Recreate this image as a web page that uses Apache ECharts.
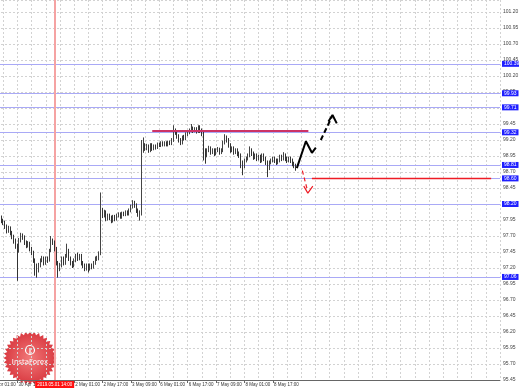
<!DOCTYPE html>
<html><head><meta charset="utf-8">
<script src="https://cdn.jsdelivr.net/npm/echarts@6/dist/echarts.min.js"></script>
<style>html,body{margin:0;padding:0;background:#fff}#c{width:519px;height:389px}</style>
</head><body><div id="c"></div>
<script>
// ---- data (H1 bars, first drawn bar is category index 6) ----
const firstBar = 6;
const opens = [98.02,97.99,97.94,97.91,97.85,97.78,97.82,97.75,97.69,97.63,97.55,97.47,97.63,97.71,97.68,97.60,97.55,97.58,97.50,97.44,
97.32,97.24,97.16,97.24,97.32,97.35,97.28,97.35,97.32,97.47,97.63,97.60,97.50,97.28,97.19,97.24,97.35,97.28,97.39,97.47,
97.35,97.28,97.24,97.32,97.39,97.35,97.39,97.28,97.24,97.19,97.24,97.19,97.24,97.22,97.28,97.35,97.35,97.42,98.10,98.02,
98.07,97.97,98.02,97.99,97.94,98.00,97.97,98.02,98.04,98.00,98.05,98.04,98.07,98.05,98.10,98.16,98.22,98.18,98.10,98.04,
98.07,99.04,99.12,99.07,99.10,99.04,99.12,99.07,99.10,99.09,99.13,99.12,99.15,99.13,99.15,99.13,99.16,99.15,99.20,99.35,
99.32,99.26,99.20,99.16,99.24,99.23,99.29,99.32,99.35,99.38,99.35,99.37,99.34,99.40,99.35,99.30,99.04,98.96,99.04,99.07,
99.01,99.04,98.99,99.04,99.05,99.01,99.04,99.16,99.24,99.20,99.12,99.04,99.07,99.01,99.04,98.99,98.96,98.85,98.79,98.88,
98.91,98.96,99.04,98.99,98.93,98.96,98.91,98.94,98.88,98.96,98.91,98.85,98.76,98.85,98.88,98.91,98.88,98.85,98.88,98.94,
98.91,98.96,98.91,98.88,98.91,98.88,98.83,98.80];
const closes = [97.99,97.94,97.91,97.85,97.78,97.82,97.75,97.69,97.63,97.55,97.47,97.63,97.71,97.68,97.60,97.55,97.58,97.50,97.44,97.32,
97.24,97.16,97.24,97.32,97.35,97.28,97.35,97.32,97.47,97.63,97.60,97.50,97.28,97.19,97.24,97.35,97.28,97.39,97.47,97.35,
97.28,97.24,97.32,97.39,97.35,97.39,97.28,97.24,97.19,97.24,97.19,97.24,97.22,97.28,97.35,97.35,97.42,98.10,98.02,98.07,
97.97,98.02,97.99,97.94,98.00,97.97,98.02,98.04,98.00,98.05,98.04,98.07,98.05,98.10,98.16,98.22,98.18,98.10,98.04,98.07,
99.04,99.12,99.07,99.10,99.04,99.12,99.07,99.10,99.09,99.13,99.12,99.15,99.13,99.15,99.13,99.16,99.15,99.20,99.35,99.32,
99.26,99.20,99.16,99.24,99.23,99.29,99.32,99.35,99.38,99.35,99.37,99.34,99.40,99.35,99.30,99.04,98.96,99.04,99.07,99.01,
99.04,98.99,99.04,99.05,99.01,99.04,99.16,99.24,99.20,99.12,99.04,99.07,99.01,99.04,98.99,98.96,98.85,98.79,98.88,98.91,
98.96,99.04,98.99,98.93,98.96,98.91,98.94,98.88,98.96,98.91,98.85,98.76,98.85,98.88,98.91,98.88,98.85,98.88,98.94,98.91,
98.96,98.91,98.88,98.91,98.88,98.83,98.80,98.76];
const lows = [97.95,97.90,97.87,97.81,97.74,97.75,97.71,97.65,97.58,97.50,97.00,97.44,97.60,97.64,97.56,97.51,97.52,97.46,97.40,97.28,
97.08,97.05,97.13,97.21,97.29,97.24,97.25,97.28,97.30,97.45,97.56,97.46,97.24,97.05,97.15,97.21,97.24,97.25,97.36,97.31,
97.24,97.20,97.21,97.29,97.31,97.32,97.24,97.20,97.15,97.16,97.13,97.16,97.18,97.19,97.25,97.31,97.32,97.40,97.98,97.99,
97.93,97.94,97.95,97.90,97.91,97.93,97.94,97.99,97.97,97.97,98.01,98.01,98.02,98.02,98.07,98.13,98.14,98.06,98.00,97.94,
98.02,99.00,99.03,99.04,99.00,99.01,99.03,99.04,99.05,99.06,99.09,99.09,99.10,99.10,99.10,99.10,99.12,99.12,99.17,99.28,
99.22,99.16,99.12,99.13,99.19,99.20,99.26,99.29,99.32,99.31,99.32,99.30,99.31,99.31,99.26,98.88,98.83,98.93,99.01,98.97,
98.98,98.95,98.96,99.01,98.97,98.98,99.01,99.13,99.16,99.08,99.00,99.01,98.97,98.98,98.95,98.92,98.76,98.65,98.76,98.85,
98.88,98.93,98.95,98.89,98.90,98.87,98.88,98.84,98.85,98.87,98.81,98.62,98.73,98.82,98.85,98.84,98.81,98.82,98.85,98.87,
98.88,98.87,98.84,98.85,98.84,98.79,98.76,98.72];
const highs = [98.06,98.02,97.97,97.94,97.88,97.86,97.85,97.78,97.72,97.66,97.58,97.67,97.75,97.74,97.71,97.63,97.62,97.61,97.53,97.47,
97.35,97.27,97.28,97.35,97.39,97.38,97.38,97.38,97.50,97.70,97.66,97.63,97.53,97.31,97.28,97.38,97.38,97.42,97.58,97.50,
97.38,97.31,97.35,97.42,97.44,97.42,97.42,97.31,97.27,97.27,97.27,97.27,97.27,97.31,97.38,97.39,97.46,98.38,98.14,98.11,
98.10,98.05,98.05,98.02,98.03,98.03,98.05,98.07,98.07,98.08,98.08,98.10,98.10,98.13,98.19,98.26,98.25,98.21,98.13,98.10,
99.20,99.24,99.15,99.14,99.13,99.15,99.15,99.13,99.13,99.16,99.16,99.18,99.18,99.18,99.18,99.19,99.19,99.23,99.43,99.38,
99.35,99.29,99.23,99.27,99.28,99.32,99.35,99.38,99.45,99.41,99.40,99.40,99.43,99.43,99.38,99.33,99.07,99.07,99.11,99.10,
99.07,99.07,99.07,99.09,99.08,99.07,99.19,99.29,99.27,99.23,99.15,99.10,99.10,99.07,99.07,99.02,98.99,98.88,98.91,98.94,
98.99,99.10,99.07,99.02,98.99,98.99,98.97,98.97,98.99,98.99,98.94,98.88,98.88,98.91,98.94,98.94,98.91,98.91,98.97,98.97,
99.01,98.99,98.94,98.94,98.94,98.91,98.86,98.83];
const levelLines = [100.39, 99.93, 99.71, 99.32, 98.81, 98.60, 98.20, 97.06];
const resistanceLine = [[92, 99.34], [180, 99.34]];
const supportLine = [[182, 98.60], [283, 98.60]];
const bullPathSolid = [[173.5, 98.76], [178.6, 99.18], [182.0, 99.00], [184.2, 99.08]];
const bullPathDashed = [[187.0, 99.20], [193.2, 99.56]];
const bullArrowHead = [[191.3, 99.49], [193.6, 99.59], [196.0, 99.46]];
const bearPathDashed = [[176.6, 98.72], [179.6, 98.40]];
const bearArrowHead = [[177.4, 98.48], [179.7, 98.37], [182.5, 98.48]];
const markerIndex = 37;
const markerLabel = '2019.05.01 14:00';
const lastPrice = 98.76;
const yMin = 95.45, yMax = 101.3875, yStep = 0.25;
const totalBars = 289;

// ---- categories: trading hours from 30 Apr 2019 01:00 (weekend skipped) ----
const months = ['Jan','Feb','Mar','Apr','May','Jun','Jul','Aug','Sep','Oct','Nov','Dec'];
const categories = [];
let t = Date.UTC(2019, 3, 30, 1);
while (categories.length < totalBars) {
  const d = new Date(t);
  const wd = d.getUTCDay();
  if (wd !== 0 && wd !== 6) {
    categories.push(d.getUTCDate() + ' ' + months[d.getUTCMonth()] + ' ' + String(d.getUTCHours()).padStart(2, '0') + ':00');
  }
  t += 3600000;
}
const lastBar = firstBar + closes.length - 1;
const candleData = categories.map((c, i) => {
  const k = i - firstBar;
  if (k < 0 || k >= closes.length) return '-';
  return [opens[k], closes[k], lows[k], highs[k]];
});

const FONT = '"Liberation Sans Narrow", "Liberation Sans", sans-serif';
const lvlColor = '#a9a9f6';
const markData = levelLines.map(v => ({
  yAxis: v,
  lineStyle: { color: lvlColor, width: 1, type: 'solid' },
  label: { show: true, position: 'end', formatter: v.toFixed(2), color: '#fff', backgroundColor: '#1f1fff',
           fontSize: 5, fontFamily: FONT, padding: [1, 2, 0, 2], distance: 2 }
}));
markData.push({
  yAxis: lastPrice,
  lineStyle: { opacity: 0 },
  label: { show: true, position: 'end', formatter: lastPrice.toFixed(2), color: '#fff', backgroundColor: '#000',
           fontSize: 5, fontFamily: FONT, padding: [1, 2, 0, 2], distance: 2 }
});
markData.push({
  xAxis: categories[markerIndex],
  lineStyle: { color: '#f5a3a3', width: 2, type: 'solid' },
  label: { show: true, position: 'start', formatter: markerLabel, color: '#fff', backgroundColor: '#ff1010',
           fontSize: 4.5, fontFamily: FONT, padding: [1, 2, 1, 2], distance: 1 }
});

// badge polygon (decoration)
const teeth = 36, pts = [];
for (let k = 0; k < teeth * 2; k++) {
  const a = Math.PI * k / teeth;
  const r = k % 2 ? 23.5 : 26.5;
  pts.push([Math.cos(a) * r, Math.sin(a) * r]);
}

const chart = echarts.init(document.getElementById('c'), null, { renderer: 'canvas' });
chart.setOption({
  animation: false,
  backgroundColor: '#ffffff',
  grid: { left: -11, right: 19, top: 0, bottom: 9, containLabel: false, outerBoundsMode: 'none' },
  xAxis: [{
    type: 'category', data: categories, boundaryGap: false,
    axisLine: { show: true, lineStyle: { color: '#666', width: 1 } },
    axisTick: { show: true, length: 3, interval: (i) => i % 16 === 0 && i <= lastBar, lineStyle: { color: '#666' } },
    axisLabel: { show: true, interval: (i) => i % 16 === 0 && i <= lastBar && i !== 32, align: 'left', fontSize: 4.5,
                 fontFamily: FONT, color: '#333', margin: 2, padding: [0, 0, 0, 1], hideOverlap: false },
    splitLine: { show: true, interval: (i) => i % 8 === 0, lineStyle: { color: '#d2d2d2', type: [2, 2], width: 1 } }
  }, {
    type: 'value', min: 0, max: totalBars - 1, show: false
  }],
  yAxis: {
    type: 'value', position: 'right', min: yMin, max: yMax, interval: yStep,
    axisLine: { show: true, lineStyle: { color: '#666', width: 1 } },
    axisTick: { show: true, length: 2, lineStyle: { color: '#666' } },
    axisLabel: { fontSize: 5, fontFamily: FONT, color: '#444', margin: 3, showMaxLabel: false, formatter: v => v.toFixed(2) },
    splitLine: { show: true, lineStyle: { color: '#d2d2d2', type: [2, 2], width: 1 } }
  },
  series: [{
    type: 'candlestick', data: candleData, barWidth: 1,
    itemStyle: { color: '#ffffff', color0: '#333333', borderColor: '#444444', borderColor0: '#333333', borderWidth: 1 },
    markLine: { silent: true, symbol: ['none', 'none'], data: markData, z: 1 }
  }, {
    type: 'line', xAxisIndex: 1, data: resistanceLine, symbol: 'none', lineStyle: { color: '#cc3366', width: 2 }, z: 3
  }, {
    type: 'line', xAxisIndex: 1, data: supportLine, symbol: 'none', lineStyle: { color: '#ee1c25', width: 1.5 }, z: 3
  }, {
    type: 'line', xAxisIndex: 1, data: bullPathSolid, symbol: 'none', lineStyle: { color: '#000', width: 2 }, z: 4
  }, {
    type: 'line', xAxisIndex: 1, data: bullPathDashed, symbol: 'none', lineStyle: { color: '#000', width: 2, type: [5, 3] }, z: 4
  }, {
    type: 'line', xAxisIndex: 1, data: bullArrowHead, symbol: 'none', lineStyle: { color: '#000', width: 2 }, z: 4
  }, {
    type: 'line', xAxisIndex: 1, data: bearPathDashed, symbol: 'none', lineStyle: { color: '#ee1c25', width: 1.2, type: [4, 3] }, z: 4
  }, {
    type: 'line', xAxisIndex: 1, data: bearArrowHead, symbol: 'none', lineStyle: { color: '#ee1c25', width: 1.2 }, z: 4
  }],
  graphic: [{
    type: 'group', x: 30, y: 358, z: 100, children: [
      { type: 'polygon', shape: { points: pts },
        style: { fill: { type: 'radial', x: 0.5, y: 0.5, r: 0.5,
          colorStops: [{ offset: 0, color: 'rgba(240,110,110,0.92)' }, { offset: 1, color: 'rgba(214,40,48,0.92)' }] } } },
      { type: 'circle', shape: { cx: 0, cy: -8, r: 4.5 }, style: { fill: 'none', stroke: '#fff', lineWidth: 1.2 } },
      { type: 'line', shape: { x1: 0, y1: -10, x2: 0, y2: -4 }, style: { stroke: '#fff', lineWidth: 1.2 } },
      { type: 'text', x: 0, y: 4, style: { text: 'InstaForex', fill: '#fff', font: '7px "DejaVu Sans"', align: 'center', verticalAlign: 'middle' } }
    ]
  }]
});
</script>
</body></html>
